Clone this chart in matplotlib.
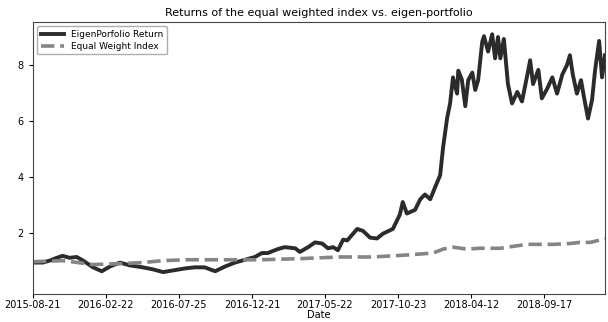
import matplotlib
matplotlib.use('Agg')
import matplotlib.pyplot as plt

plt.rcParams['font.family'] = 'DejaVu Sans'

# trading-day position and value of the eigen-portfolio cumulative return
eigen_day = [0, 17, 29, 41, 51, 63, 75, 86, 103, 118, 132, 149, 166, 188, 205, 223,
             240, 260, 277, 294, 312, 329, 346, 363, 380, 392, 402, 419, 431, 449,
             457, 471, 483, 495, 505, 514, 522, 531, 538, 555, 565, 577, 589, 599,
             616, 628, 633, 640, 654, 663, 671, 680, 688, 697, 702, 709, 714, 719,
             726, 728, 734, 740, 745, 752, 757, 762, 769, 772, 779, 786, 791, 796,
             800, 806, 813, 820, 829, 837, 846, 851, 856, 865, 871, 880, 889, 897,
             906, 914, 919, 924, 931, 938, 943, 950, 957, 962, 969, 974, 979]
eigen_ret = [0.96, 0.96, 1.03, 1.13, 1.20, 1.13, 1.16, 1.03, 0.79, 0.65, 0.82, 0.96,
             0.86, 0.79, 0.72, 0.62, 0.68, 0.75, 0.79, 0.79, 0.65, 0.82, 0.96, 1.06,
             1.16, 1.30, 1.30, 1.44, 1.51, 1.47, 1.34, 1.51, 1.68, 1.64, 1.47, 1.51,
             1.40, 1.78, 1.75, 2.16, 2.09, 1.85, 1.82, 1.99, 2.16, 2.67, 3.12, 2.71,
             2.84, 3.22, 3.39, 3.22, 3.63, 4.08, 5.07, 6.13, 6.64, 7.57, 6.99, 7.81,
             7.50, 6.54, 7.47, 7.74, 7.12, 7.47, 8.84, 9.04, 8.49, 9.11, 8.25, 9.01,
             8.25, 8.94, 7.33, 6.64, 7.05, 6.71, 7.64, 8.18, 7.33, 7.84, 6.82, 7.16,
             7.57, 6.99, 7.67, 8.01, 8.36, 7.67, 6.99, 7.47, 6.88, 6.10, 6.78, 7.81,
             8.87, 7.57, 8.36]

# equal weighted index
equal_day = [0, 51, 103, 149, 188, 223, 264, 320, 389, 457, 526, 582, 640, 685,
             702, 719, 743, 765, 800, 822, 846, 890, 919, 936, 954, 979]
equal_ret = [0.99, 1.03, 0.89, 0.92, 0.96, 1.03, 1.06, 1.06, 1.06, 1.10, 1.16, 1.16,
             1.23, 1.30, 1.44, 1.51, 1.44, 1.47, 1.47, 1.54, 1.61, 1.61, 1.64, 1.68,
             1.68, 1.81]

tick_pos = [0, 125, 250, 375, 500, 625, 750, 875]
tick_labels = ['2015-08-21', '2016-02-22', '2016-07-25', '2016-12-21',
               '2017-05-22', '2017-10-23', '2018-04-12', '2018-09-17']

fig = plt.figure(figsize=(6.08, 3.22), dpi=100)
ax = fig.add_axes([0.054, 0.088, 0.941, 0.844])

ax.plot(eigen_day, eigen_ret, color='#2b2b2b', linewidth=2.8, label='EigenPorfolio Return')
ax.plot(equal_day, equal_ret, color='#858585', linewidth=2.6, linestyle='--',
        label='Equal Weight Index')

ax.set_xlim(0, 979)
ax.set_ylim(-0.15, 9.55)
ax.set_xticks(tick_pos)
ax.set_xticklabels(tick_labels, fontsize=7)
ax.set_yticks([2, 4, 6, 8])
ax.tick_params(axis='y', labelsize=7, length=3)
ax.tick_params(axis='x', length=3, pad=1.5)
ax.set_xlabel('Date', fontsize=7, labelpad=0)
ax.set_title('Returns of the equal weighted index vs. eigen-portfolio', fontsize=8, pad=4)
ax.legend(loc='upper left', fontsize=6.5, edgecolor='#999999', borderpad=0.4,
          handlelength=2.5, labelspacing=0.3)

for s in ax.spines.values():
    s.set_color('#444444')

plt.savefig('out.png', dpi=100, facecolor='white')
plt.close()
